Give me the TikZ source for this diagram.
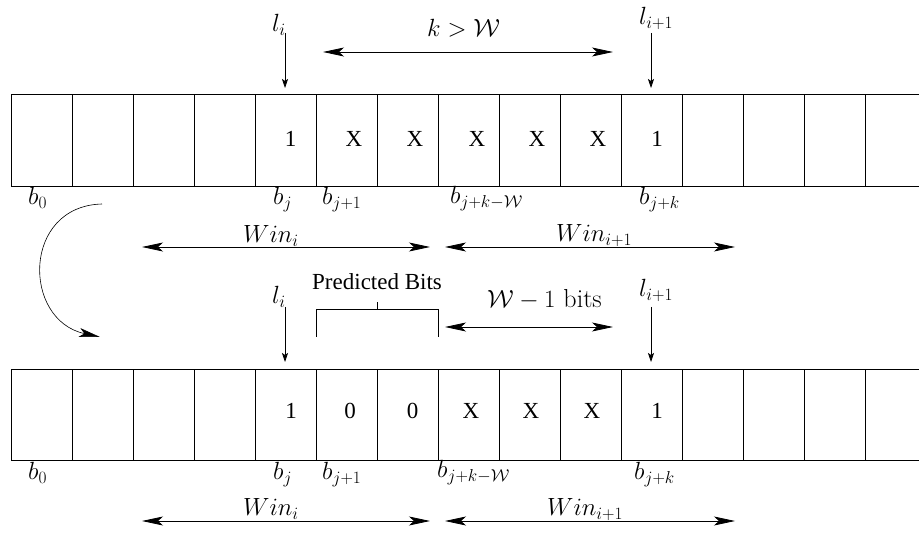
\documentclass[tikz,border=0pt]{standalone}
\usepackage[no-math]{fontspec}
\newfontfamily\tms{Liberation Serif}
\usetikzlibrary{arrows.meta}
\begin{document}
\begin{tikzpicture}[x=1pt,y=-1pt,
  grid/.style={line width=0.8pt},
  lab/.style={font=\fontsize{26}{30}\selectfont, inner sep=0pt, anchor=base west},
  bit/.style={font=\tms\fontsize{23}{26}\selectfont, inner sep=0pt},
  ptext/.style={font=\tms\fontsize{23}{26}\selectfont, inner sep=0pt, anchor=base west},
  bigtip/.tip={Stealth[length=21pt,width=9pt,inset=5pt]},
  smalltip/.tip={Stealth[length=9pt,width=6pt,inset=2pt]},
  span/.style={bigtip-bigtip, line width=0.8pt},
  pointer/.style={-smalltip, line width=0.7pt},
  curvearrow/.style={-bigtip, line width=0.6pt}
]
\useasboundingbox (0,0) rectangle (919,534);

% ---------- top array ----------
\foreach \i in {0,...,14}
  \draw[grid] ({11+61*\i},94) rectangle ++(61,92);
\node[bit] (t1) at (290.5,139) {1};
\node[bit] (t2) at (354,139) {X};
\node[bit] (t3) at (415,139) {X};
\node[bit] (t4) at (477,139) {X};
\node[bit] (t5) at (537,139) {X};
\node[bit] (t6) at (598,139) {X};
\node[bit] (t7) at (657,139) {1};

\node[lab] (tli) at (272,31.5) {$l_i$};
\node[lab] (tlii) at (639,25) {$l_{i+1}$};
\coordinate (tliA) at (285,33);  \coordinate (tliB) at (285,88);
\coordinate (tliiA) at (651,33); \coordinate (tliiB) at (651,88);
\draw[pointer] (tliA) -- (tliB);
\draw[pointer] (tliiA) -- (tliiB);

\node[lab] (tk) at (427,37) {$k>\mathcal{W}$};
\coordinate (tkA) at (323,52); \coordinate (tkB) at (613,52);
\draw[span] (tkA) -- (tkB);

\node[lab] (tb0) at (28,205) {$b_0$};
\node[lab] (tbj) at (273,205) {$b_j$};
\node[lab] (tbj1) at (322,205) {$b_{j+1}$};
\node[lab] (tbjkw) at (450,204) {$b_{j+k-\mathcal{W}}$};
\node[lab] (tbjk) at (639,205) {$b_{j+k}$};

\node[lab] (twi) at (243,243) {$Win_i$};
\node[lab] (twii) at (556,242) {$Win_{i+1}$};
\coordinate (twiA) at (142,247); \coordinate (twiB) at (430,247);
\coordinate (twiiA) at (445,247); \coordinate (twiiB) at (735,247);
\draw[span] (twiA) -- (twiB);
\draw[span] (twiiA) -- (twiiB);

% ---------- curved arrow ----------
\coordinate (cA) at (102,204); \coordinate (cB) at (100,337);
\draw[curvearrow] (cA) .. controls (22,206) and (22,320) .. (cB);

% ---------- bottom array ----------
\foreach \i in {0,...,14}
  \draw[grid] ({11+61*\i},369) rectangle ++(61,91);
\node[bit] (u1) at (291,411) {1};
\node[bit] (u2) at (350,411) {0};
\node[bit] (u3) at (412.7,411) {0};
\node[bit] (u4) at (471,411) {X};
\node[bit] (u5) at (531,411) {X};
\node[bit] (u6) at (592,411) {X};
\node[bit] (u7) at (657,411) {1};

\node[lab] (uli) at (272,304) {$l_i$};
\node[lab] (ulii) at (639,297) {$l_{i+1}$};
\coordinate (uliA) at (285,307);  \coordinate (uliB) at (285,362);
\coordinate (uliiA) at (651,307); \coordinate (uliiB) at (651,362);
\draw[pointer] (uliA) -- (uliB);
\draw[pointer] (uliiA) -- (uliiB);

\node[ptext] (pred) at (312,290) {Predicted Bits};
\coordinate (brL) at (316,337); \coordinate (brLt) at (316,309);
\coordinate (brR) at (438,337); \coordinate (brRt) at (438,309);
\coordinate (brM) at (377,309); \coordinate (brMt) at (377,302);
\draw[grid] (brL) -- (brLt) -- (brRt) -- (brR);
\draw[grid] (brM) -- (brMt);

\node[lab] (uw1) at (487,308) {$\mathcal{W}-1$ bits};
\coordinate (uwA) at (445,327); \coordinate (uwB) at (613,327);
\draw[span] (uwA) -- (uwB);

\node[lab] (ub0) at (28,480) {$b_0$};
\node[lab] (ubj) at (273,480) {$b_j$};
\node[lab] (ubj1) at (322,480) {$b_{j+1}$};
\node[lab] (ubjkw) at (437,478) {$b_{j+k-\mathcal{W}}$};
\node[lab] (ubjk) at (634,480) {$b_{j+k}$};

\node[lab] (uwi) at (243,516) {$Win_i$};
\node[lab] (uwii) at (547,516) {$Win_{i+1}$};
\coordinate (uwiA) at (142,521); \coordinate (uwiB) at (430,521);
\coordinate (uwiiA) at (445,521); \coordinate (uwiiB) at (735,521);
\draw[span] (uwiA) -- (uwiB);
\draw[span] (uwiiA) -- (uwiiB);
\end{tikzpicture}
\end{document}
